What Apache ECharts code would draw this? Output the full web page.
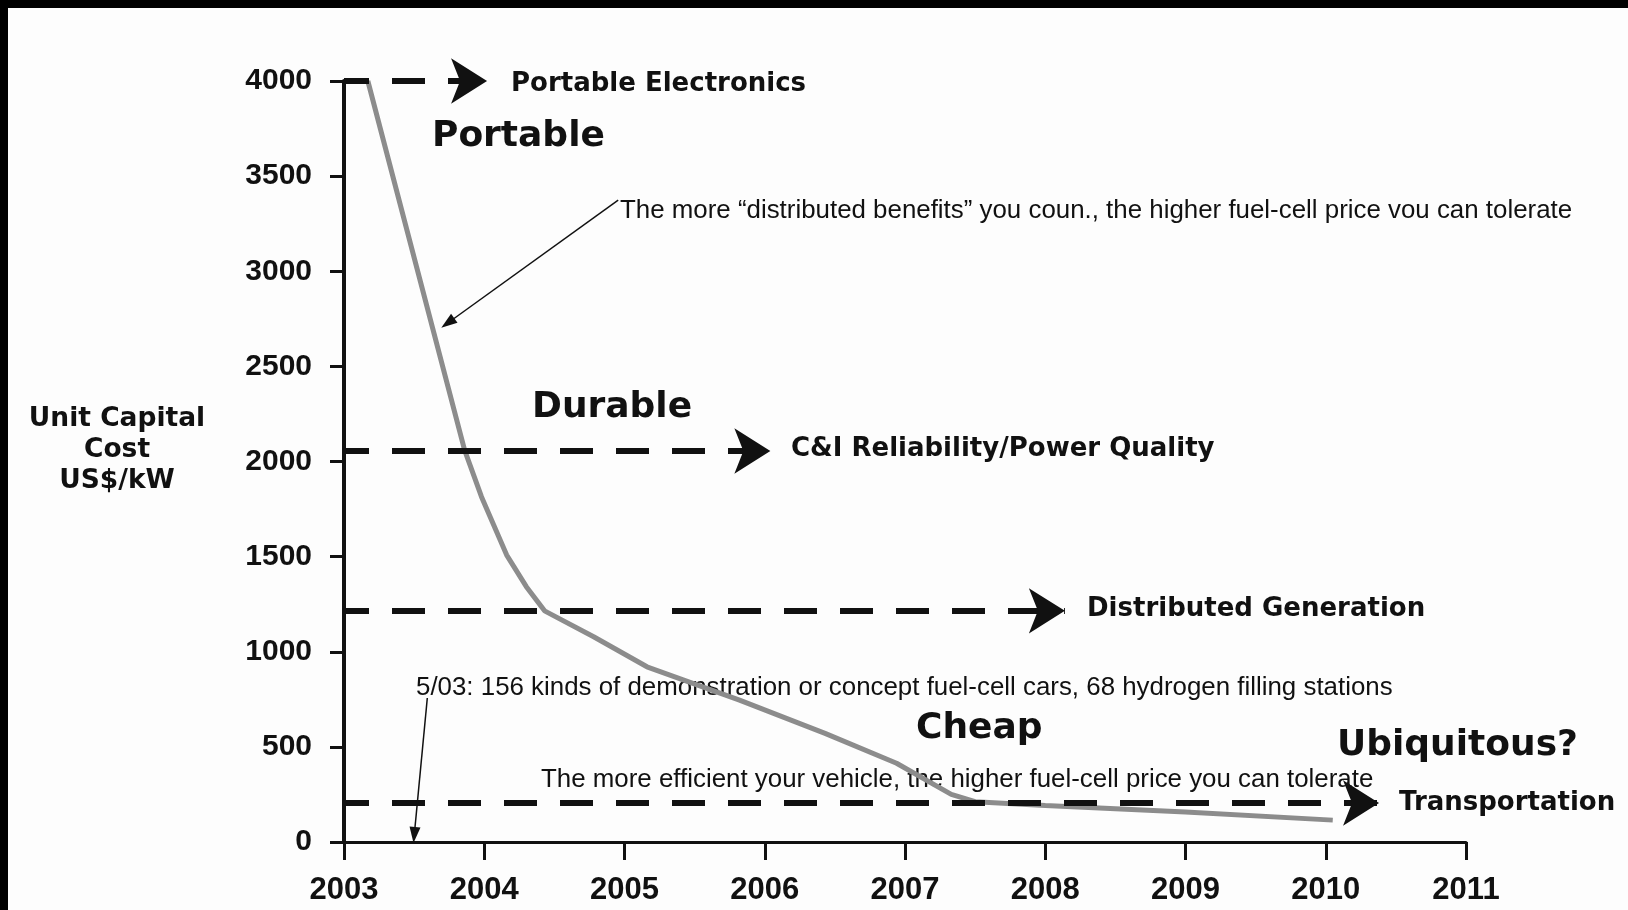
<!DOCTYPE html>
<html><head><meta charset="utf-8">
<script src="https://cdn.jsdelivr.net/npm/echarts@6/dist/echarts.min.js"></script>
<style>html,body{margin:0;padding:0;background:#fdfdfd}#c{width:1628px;height:910px}</style>
</head><body><div id="c"></div>
<script>
// ---- data ----
const years = [2003.17, 2003.86, 2003.98, 2004.16, 2004.30, 2004.43, 2004.78, 2005.16, 2005.82, 2006.43, 2006.94, 2007.33, 2007.5, 2008.0, 2009.0, 2010.05];
const costs = [4000, 2060, 1815, 1508, 1342, 1215, 1079, 921, 746, 571, 414, 250, 212, 192, 158, 115];
const xMin = 2003, xMax = 2011, xStep = 1;
const yMin = 0, yMax = 4000, yStep = 500;
const marketLevels = [4000, 2055, 1215, 205];
const marketArrowEnds = [2004.02, 2006.04, 2008.14, 2010.38];
const marketNames = ['Portable Electronics', 'C&I Reliability/Power Quality', 'Distributed Generation', 'Transportation'];
const stageNames = ['Portable', 'Durable', 'Cheap', 'Ubiquitous?'];
const noteTexts = [
  'The more \u201cdistributed benefits\u201d you coun., the higher fuel-cell price vou can tolerate',
  '5/03: 156 kinds of demonstration or concept fuel-cell cars, 68 hydrogen filling stations',
  'The more efficient your vehicle, the higher fuel-cell price you can tolerate'
];
const noteArrowFrom = [[2004.955, 3374], [2003.594, 757]];
const noteArrowTo = [[2003.74, 2728], [2003.501, 37]];
const yTitle = 'Unit Capital\nCost\nUS$/kW';

// ---- chart ----
const chart = echarts.init(document.getElementById('c'));
const ink = '#111';
const boldSans = 'DejaVu Sans';
const numFont = 'Liberation Sans';

function txt(text, x, y, size, family, weight, sx) {
  return {
    type: 'text', x: x, y: y, scaleX: sx || 1, originX: 0, originY: 0, silent: true,
    style: { text: text, fontSize: size, fontFamily: family, fontWeight: weight, fill: ink, verticalAlign: 'middle', textAlign: 'left' }
  };
}

const marketPos = [[511, 84], [791, 449], [1087, 609], [1399, 803]];
const stagePos = [[432, 137], [532, 408], [916, 729], [1337, 746]];
const notePos = [[620, 211], [416, 688], [541, 780]];

const graphics = [
  { type: 'rect', shape: { x: 0, y: 0, width: 1628, height: 8 }, style: { fill: '#000' }, silent: true },
  { type: 'rect', shape: { x: 0, y: 0, width: 8, height: 910 }, style: { fill: '#000' }, silent: true },
  {
    type: 'text', x: 117, y: 450, silent: true,
    style: { text: yTitle, fontSize: 26.5, fontFamily: boldSans, fontWeight: 'bold', fill: ink, textAlign: 'center', verticalAlign: 'middle', lineHeight: 31 }
  }
];
marketNames.forEach((t, i) => graphics.push(txt(t, marketPos[i][0], marketPos[i][1], 26, boldSans, 'bold')));
stageNames.forEach((t, i) => graphics.push(txt(t, stagePos[i][0], stagePos[i][1], 36, boldSans, 'bold')));
noteTexts.forEach((t, i) => graphics.push(txt(t, notePos[i][0], notePos[i][1], 25, numFont, 'normal', 1.035)));

chart.setOption({
  animation: false,
  backgroundColor: '#fdfdfd',
  grid: { left: 344, right: 162, top: 81, bottom: 68, containLabel: false, outerBoundsMode: 'none' },
  xAxis: {
    type: 'value', min: xMin, max: xMax, interval: xStep,
    axisLine: { show: true, onZero: false, lineStyle: { color: ink, width: 3 } },
    axisTick: { show: true, length: 18, lineStyle: { color: ink, width: 3 } },
    axisLabel: { color: ink, fontFamily: numFont, fontWeight: 'bold', fontSize: 31, margin: 33, formatter: v => String(v) },
    splitLine: { show: false }
  },
  yAxis: {
    type: 'value', min: yMin, max: yMax, interval: yStep,
    axisLine: { show: true, lineStyle: { color: ink, width: 4 } },
    axisTick: { show: true, length: 14, lineStyle: { color: ink, width: 3 } },
    axisLabel: { color: ink, fontFamily: numFont, fontWeight: 'bold', fontSize: 30, margin: 32, formatter: v => String(v) },
    splitLine: { show: false }
  },
  series: [
    {
      type: 'line', name: 'markets', data: [], silent: true,
      markLine: {
        silent: true, animation: false,
        symbol: ['none', 'arrow'], symbolSize: [34, 36],
        label: { show: false },
        lineStyle: { color: ink, width: 6, type: [33, 23], dashOffset: 8, opacity: 1 },
        emphasis: { disabled: true },
        data: marketLevels.map((lv, i) => [{ coord: [xMin, lv] }, { coord: [marketArrowEnds[i], lv] }])
      }
    },
    {
      type: 'line', name: 'cost', silent: true,
      data: years.map((y, i) => [y, costs[i]]),
      showSymbol: false, symbol: 'none',
      lineStyle: { color: '#8c8c8c', width: 5 },
      z: 3
    },
    {
      type: 'line', name: 'notes', data: [], silent: true,
      markLine: {
        silent: true, animation: false,
        symbol: ['none', 'triangle'], symbolSize: [11, 16],
        label: { show: false },
        lineStyle: { color: ink, width: 1.5, type: 'solid', opacity: 1 },
        emphasis: { disabled: true },
        data: noteArrowFrom.map((p, i) => [{ coord: p }, { coord: noteArrowTo[i] }])
      }
    }
  ],
  graphic: graphics
});
</script></body></html>
